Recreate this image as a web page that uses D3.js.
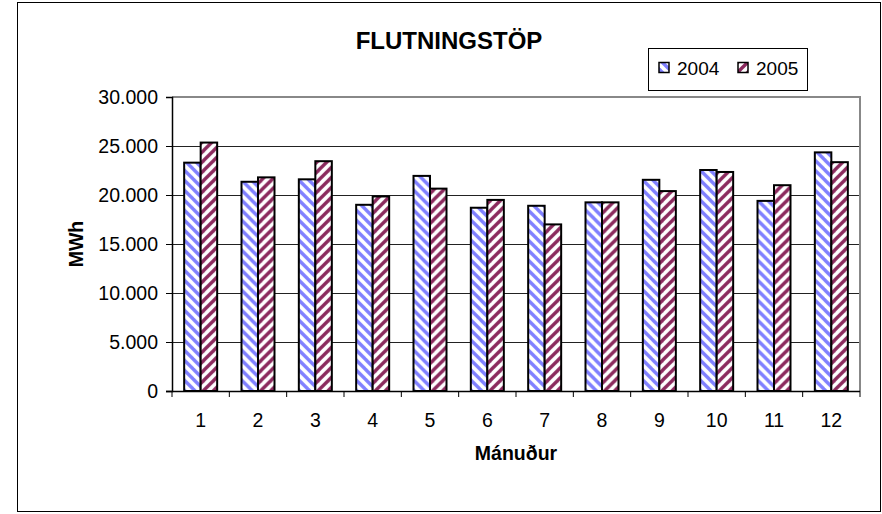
<!DOCTYPE html>
<html>
<head>
<meta charset="utf-8">
<script src="https://cdn.jsdelivr.net/npm/d3@7"></script>
<style>
  html, body { margin: 0; padding: 0; background: #fff; }
  svg { display: block; font-family: "Liberation Sans", Arial, sans-serif; }
</style>
</head>
<body>
<svg id="chart" width="882" height="514"></svg>
<script>
const title = "FLUTNINGSTÖP";
const xTitle = "Mánuður";
const yTitle = "MWh";
const months = ["1","2","3","4","5","6","7","8","9","10","11","12"];
const seriesNames = ["2004", "2005"];
const values2004 = [23300, 21350, 21600, 19000, 21950, 18700, 18900, 19250, 21550, 22550, 19400, 24350];
const values2005 = [25350, 21800, 23450, 19850, 20650, 19500, 17000, 19250, 20400, 22350, 21000, 23350];
const yTicks = [0, 5000, 10000, 15000, 20000, 25000, 30000];

const svg = d3.select("#chart");
const plot = { left: 172, right: 860, top: 97, bottom: 391 };

// patterns
const defs = svg.append("defs");
function stripe(id, color, dir) {
  const p = defs.append("pattern")
    .attr("id", id).attr("patternUnits", "userSpaceOnUse")
    .attr("width", 10).attr("height", 10);
  p.append("rect").attr("width", 10).attr("height", 10).attr("fill", "#fff");
  const g = p.append("g").attr("stroke", color).attr("stroke-width", 3.4).attr("stroke-linecap", "square");
  const offs = [-10, 0, 10];
  offs.forEach(o => {
    if (dir === "down") g.append("line").attr("x1", o - 5).attr("y1", -5).attr("x2", o + 15).attr("y2", 15);
    else g.append("line").attr("x1", o - 5).attr("y1", 15).attr("x2", o + 15).attr("y2", -5);
  });
}
stripe("p2004", "#8080ff", "down");
stripe("p2005", "#8b2a5e", "up");
const fills = ["url(#p2004)", "url(#p2005)"];

// outer frame
svg.append("rect").attr("x", 17.5).attr("y", 2.5).attr("width", 863).attr("height", 509)
  .attr("fill", "#fff").attr("stroke", "#000").attr("stroke-width", 1);

const x = d3.scaleBand().domain(months).range([plot.left, plot.right]).paddingInner(0).paddingOuter(0);
const y = d3.scaleLinear().domain([0, 30000]).range([plot.bottom, plot.top]);
const groupW = 33;
const xs = d3.scaleBand().domain(seriesNames).range([0, groupW]);

// gridlines
svg.append("g").selectAll("line").data(yTicks.filter(t => t > 0 && t < 30000)).join("line")
  .attr("x1", plot.left).attr("x2", plot.right)
  .attr("y1", d => Math.round(y(d)) + 0.5).attr("y2", d => Math.round(y(d)) + 0.5)
  .attr("stroke", "#222").attr("stroke-width", 1);

// plot border top & right (gray)
svg.append("path")
  .attr("d", `M${plot.left},${plot.top} H${plot.right} V${plot.bottom}`)
  .attr("fill", "none").attr("stroke", "#888").attr("stroke-width", 2);

// bars
const data = months.map((m, i) => ({ m, vals: [values2004[i], values2005[i]] }));
const groups = svg.append("g").selectAll("g").data(data).join("g")
  .attr("transform", d => `translate(${x(d.m) + (x.bandwidth() - groupW) / 2},0)`);
groups.selectAll("rect").data(d => d.vals.map((v, j) => ({ v, j }))).join("rect")
  .attr("x", d => xs(seriesNames[d.j]))
  .attr("y", d => y(d.v))
  .attr("width", xs.bandwidth())
  .attr("height", d => y(0) - y(d.v))
  .attr("fill", d => fills[d.j])
  .attr("stroke", "#000").attr("stroke-width", 2);

// y axis
const yAxis = d3.axisLeft(y).tickValues(yTicks).tickSize(6).tickPadding(8)
  .tickFormat(d => d3.format(",")(d).replace(/,/g, "."));
const gy = svg.append("g").attr("transform", `translate(${plot.left},0)`).call(yAxis);
gy.select(".domain").attr("stroke", "#000").attr("stroke-width", 1.5);
gy.selectAll(".tick line").attr("stroke", "#000");
gy.selectAll("text").attr("font-size", 19.5).attr("fill", "#000")
  .attr("font-family", "Liberation Sans, Arial, sans-serif");

// x axis
const gx = svg.append("g").attr("transform", `translate(0,${plot.bottom})`);
gx.append("line").attr("x1", plot.left - 6).attr("x2", plot.right).attr("y1", 0.5).attr("y2", 0.5)
  .attr("stroke", "#000").attr("stroke-width", 1.5);
const bounds = months.map(m => x(m)).concat([plot.right]);
gx.selectAll("line.tk").data(bounds).join("line").attr("class", "tk")
  .attr("x1", d => d).attr("x2", d => d).attr("y1", 0).attr("y2", 6)
  .attr("stroke", "#000");
gx.selectAll("text").data(months).join("text")
  .attr("x", d => x(d) + x.bandwidth() / 2).attr("y", 36)
  .attr("text-anchor", "middle").attr("font-size", 19.5).attr("fill", "#000")
  .text(d => d);

// titles
svg.append("text").attr("x", 449).attr("y", 49).attr("text-anchor", "middle")
  .attr("font-size", 24).attr("font-weight", "bold").text(title);
svg.append("text").attr("x", (plot.left + plot.right) / 2).attr("y", 460).attr("text-anchor", "middle")
  .attr("font-size", 19.5).attr("font-weight", "bold").text(xTitle);
svg.append("text").attr("transform", `translate(83,${(plot.top + plot.bottom) / 2}) rotate(-90)`)
  .attr("text-anchor", "middle").attr("font-size", 19.5).attr("font-weight", "bold").text(yTitle);

// legend
const lg = svg.append("g");
lg.append("rect").attr("x", 648.5).attr("y", 48.5).attr("width", 159).attr("height", 42)
  .attr("fill", "#fff").attr("stroke", "#000").attr("stroke-width", 1);
const legX = [659, 738];
seriesNames.forEach((s, i) => {
  lg.append("rect").attr("x", legX[i]).attr("y", 62.5).attr("width", 10).attr("height", 10)
    .attr("fill", fills[i]).attr("stroke", "#000").attr("stroke-width", 1.5);
  lg.append("text").attr("x", legX[i] + 18).attr("y", 75).attr("font-size", 19).text(s);
});
</script>
</body>
</html>
